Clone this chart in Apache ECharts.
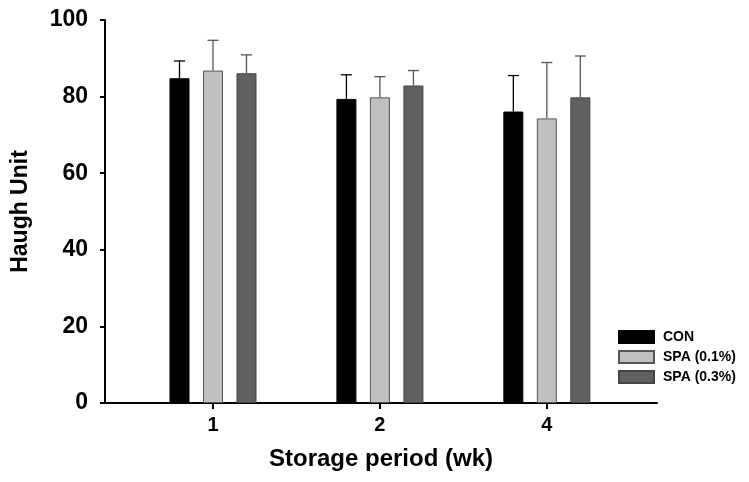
<!DOCTYPE html>
<html>
<head>
<meta charset="utf-8">
<script src="https://cdn.jsdelivr.net/npm/echarts@6/dist/echarts.min.js"></script>
<style>
  html, body { margin: 0; padding: 0; background: #fff; }
  #chart { width: 749px; height: 482px; }
</style>
</head>
<body>
<div id="chart"></div>
<script>
// storage weeks shown on the x axis
const periods = ['1', '2', '4']
const groups = ['CON', 'SPA (0.1%)', 'SPA (0.3%)']

// Haugh unit means and SD (upper error bars only)
const conMean = [84.8, 79.4, 76.1]
const conSd = [4.5, 6.3, 9.4]
const spa1Mean = [86.8, 79.8, 74.3]
const spa1Sd = [7.9, 5.4, 14.6]
const spa3Mean = [86.1, 82.9, 79.8]
const spa3Sd = [4.8, 3.9, 10.8]

const yTicks = [0, 20, 40, 60, 80, 100]

const means = [conMean, spa1Mean, spa3Mean]
const sds = [conSd, spa1Sd, spa3Sd]
const fills = ['#000000', '#c0c0c0', '#606060']
const borders = ['#000000', '#555555', '#444444']
const errColors = ['#000000', '#555555', '#555555']

const barWidth = 20
const barGap = 13.5

const font = 'Liberation Sans, Arial, sans-serif'
const positions = periods.map(function(p, k) { return k + 1 })

const chart = echarts.init(document.getElementById('chart'))

const series = []
groups.forEach(function(name, i) {
  series.push({
    name: name,
    type: 'bar',
    barWidth: barWidth,
    barGap: (barGap / barWidth * 100) + '%',
    itemStyle: { color: fills[i], borderColor: borders[i], borderWidth: 1 },
    data: positions.map(function(x, k) { return [x, means[i][k]] }),
    z: 2
  })
})
groups.forEach(function(name, i) {
  const offset = (i - 1) * (barWidth + barGap)
  series.push({
    type: 'custom',
    name: name + ' err',
    data: positions.map(function(x, k) { return [x, means[i][k], means[i][k] + sds[i][k]] }),
    renderItem: function(params, api) {
      const base = api.coord([api.value(0), api.value(1)])
      const top = api.coord([api.value(0), api.value(2)])
      const x = base[0] + offset
      const st = { stroke: errColors[i], lineWidth: 1.3 }
      return {
        type: 'group',
        children: [
          { type: 'line', shape: { x1: x, y1: base[1], x2: x, y2: top[1] }, style: st },
          { type: 'line', shape: { x1: x - 5.5, y1: top[1], x2: x + 5.5, y2: top[1] }, style: st }
        ]
      }
    },
    z: 1,
    silent: true
  })
})

chart.setOption({
  animation: false,
  grid: { left: 105, right: 92, top: 20, bottom: 79, outerBoundsMode: 'none' },
  legend: {
    data: groups,
    orient: 'vertical',
    left: 618,
    top: 330,
    padding: 0,
    itemWidth: 35,
    itemHeight: 12,
    itemGap: 6,
    icon: 'rect',
    textStyle: { fontFamily: font, fontWeight: 'bold', fontSize: 14, color: '#000', padding: [0, 0, 0, 4] }
  },
  xAxis: {
    type: 'value',
    min: 0.353,
    max: 3.66,
    splitLine: { show: false },
    axisLine: { lineStyle: { color: '#000', width: 2 } },
    axisTick: { show: true, length: 6, customValues: positions, lineStyle: { color: '#000', width: 2 } },
    axisLabel: {
      margin: 12,
      customValues: positions,
      fontFamily: font, fontWeight: 'bold', fontSize: 20, color: '#000',
      formatter: function(v) { return periods[Math.round(v) - 1] }
    },
    name: 'Storage period (wk)',
    nameLocation: 'middle',
    nameGap: 44,
    nameTextStyle: { fontFamily: font, fontWeight: 'bold', fontSize: 24, color: '#000' }
  },
  yAxis: {
    type: 'value',
    min: yTicks[0],
    max: yTicks[yTicks.length - 1],
    interval: 20,
    splitLine: { show: false },
    axisLine: { show: true, lineStyle: { color: '#000', width: 2 } },
    axisTick: { show: true, length: 5, lineStyle: { color: '#000', width: 2 } },
    axisLabel: { margin: 17, fontFamily: font, fontWeight: 'bold', fontSize: 23, color: '#000' },
    name: 'Haugh Unit',
    nameLocation: 'middle',
    nameGap: 73,
    nameTextStyle: { fontFamily: font, fontWeight: 'bold', fontSize: 23, color: '#000' }
  },
  series: series
})
</script>
</body>
</html>
